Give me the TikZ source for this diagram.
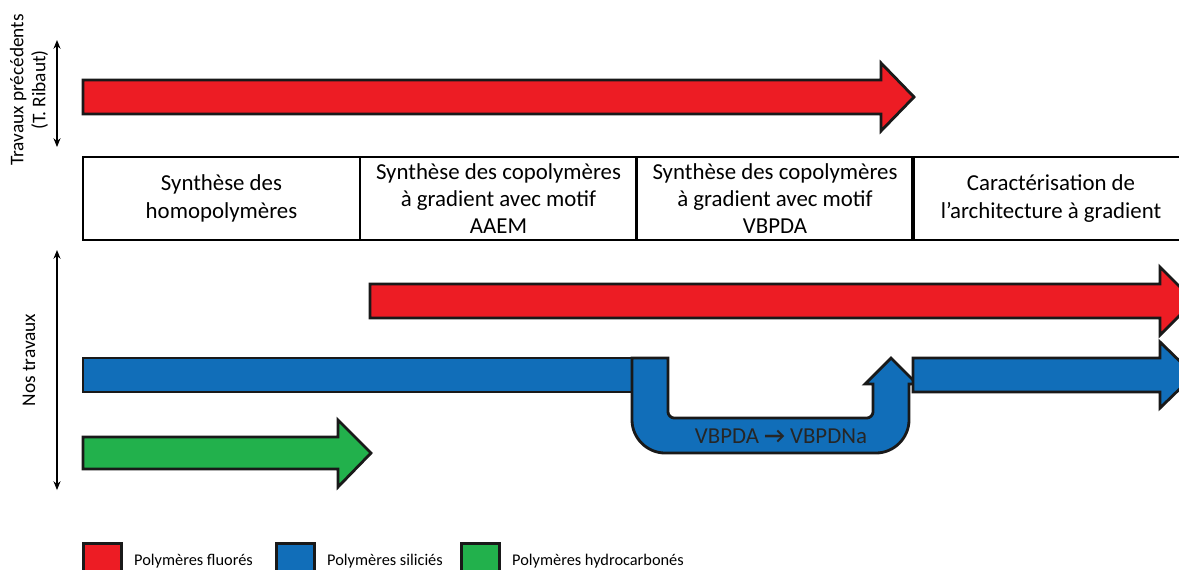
\documentclass[tikz,border=0pt]{standalone}
\usepackage{fontspec}
\setmainfont{Carlito}
\usetikzlibrary{arrows.meta}
\definecolor{fluoRed}{RGB}{237,28,36}
\definecolor{siliBlue}{RGB}{17,110,185}
\definecolor{hydroGreen}{RGB}{34,177,76}

\begin{document}
\begin{tikzpicture}[
    x=0.02cm, y=-0.02cm,
    stage/.style={
        rectangle, draw=black, line width=1.4pt,
        minimum width=5.54cm, minimum height=1.66cm,
        align=center, font=\fontsize{13}{15.6}\selectfont
    },
    fatarrow/.style={draw=black!90, line width=1.6pt, line join=miter},
    span/.style={{Stealth[length=5pt,width=4pt]}-{Stealth[length=5pt,width=4pt]}, line width=0.6pt},
    sidelabel/.style={rotate=90, align=center, font=\fontsize{11}{12.5}\selectfont},
    legsq/.style={rectangle, draw=black!90, line width=1.6pt, minimum width=0.76cm, minimum height=0.7cm},
    legtext/.style={anchor=west, font=\fontsize{9.3}{11}\selectfont}
]
\useasboundingbox (0,0) rectangle (1179,569);
\clip (0,0) rectangle (1179,569);

% Previous work
\draw[fatarrow, fill=fluoRed] (83,80) -- (881,80) -- (881,63) -- (914,97) -- (881,131) -- (881,114) -- (83,114) -- cycle;

% Stages
\node[stage] (homo) at (221.5,198.5) {Synthèse des\\homopolymères};
\node[stage] (aaem) at (498.5,198.5) {Synthèse des copolymères\\à gradient avec motif\\AAEM};
\node[stage] (vbpda) at (775,198.5) {Synthèse des copolymères\\à gradient avec motif\\VBPDA};
\node[stage] (carac) at (1051,198.5) {Caractérisation de\\l'architecture à gradient};

% Our work
\draw[fatarrow, fill=fluoRed] (370,284) -- (1160,284) -- (1160,267) -- (1194,301) -- (1160,335) -- (1160,318) -- (370,318) -- cycle;
\draw[fatarrow, fill=siliBlue] (83,358) -- (632,358) -- (632,392) -- (83,392) -- cycle;
\draw[fatarrow, fill=siliBlue] (632,358) -- (632,420) .. controls (632,438) and (647,453) .. (665,453)
    -- (876,453) .. controls (894,453) and (909,438) .. (909,420)
    -- (909,384) -- (917,384) -- (891,358) -- (865,384) -- (873,384)
    -- (873,412) .. controls (873,415) and (870,418) .. (867,418)
    -- (674,418) .. controls (671,418) and (668,415) .. (668,412) -- (668,358) -- cycle;
\node[font=\fontsize{13}{15}\selectfont, text=black!85] (conv) at (781,436) {VBPDA \textbf{→} VBPDNa};
\draw[fatarrow, fill=siliBlue] (913,358) -- (1160,358) -- (1160,342) -- (1194,375) -- (1160,408) -- (1160,392) -- (913,392) -- cycle;
\draw[fatarrow, fill=hydroGreen] (83,437) -- (338,437) -- (338,420) -- (371,453) -- (338,487) -- (338,469) -- (83,469) -- cycle;

% Side labels
\node[sidelabel] (prevlbl) at (29,90) {Travaux précédents\\(T. Ribaut)};
\coordinate (prevtop) at (57,40);
\coordinate (prevbot) at (57,147);
\draw[span] (prevtop) -- (prevbot);
\node[sidelabel] (ourlbl) at (29,360) {Nos travaux};
\coordinate (ourtop) at (57,250);
\coordinate (ourbot) at (57,490);
\draw[span] (ourtop) -- (ourbot);

% Legend
\node[legsq, fill=fluoRed] (legF) at (102.5,561) {};
\node[legtext] (legFtxt) at (128,561) {Polymères fluorés};
\node[legsq, fill=siliBlue] (legS) at (295.5,561) {};
\node[legtext] (legStxt) at (321,561) {Polymères siliciés};
\node[legsq, fill=hydroGreen] (legH) at (480.5,561) {};
\node[legtext] (legHtxt) at (506,561) {Polymères hydrocarbonés};

\end{tikzpicture}
\end{document}
